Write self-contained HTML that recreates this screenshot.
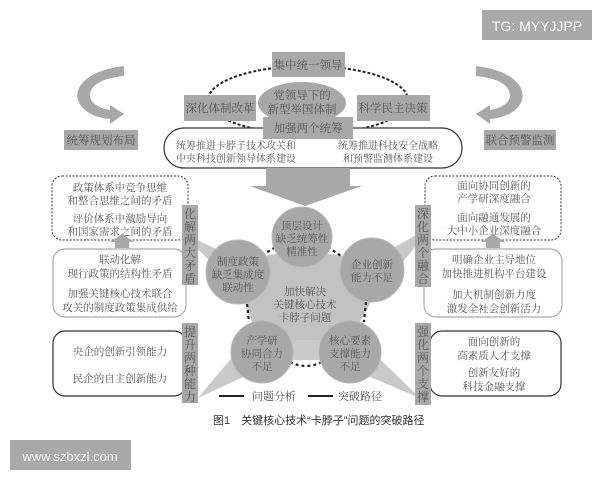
<!DOCTYPE html>
<html><head><meta charset="utf-8"><style>
body{margin:0;background:#fff}
svg{display:block}
text{font-family:"Liberation Serif","Noto Serif CJK SC",serif;fill:#555}
.s{font-family:"Liberation Sans","Noto Sans CJK SC",sans-serif}
</style></head><body>
<svg width="600" height="480" viewBox="0 0 600 480" xmlns="http://www.w3.org/2000/svg">
<rect width="600" height="480" fill="#fff"/>
<rect x="482" y="10" width="110" height="30" fill="#a9a9a9"/>
<text x="537" y="31" text-anchor="middle" class="s" font-size="14" style="fill:#fff">TG: MYYJJPP</text>
<rect x="10" y="440" width="121" height="30" fill="#a9a9a9"/>
<text x="70" y="461" text-anchor="middle" class="s" font-size="13" style="fill:#fff">www.szbxzl.com</text>

<path d="M124 66 C90 70 74 85 78 100 C82 112 96 118 110 119 L110 124 L124 114 L110 105 L110 110 C98 108 90 102 90 96 C90 84 104 78 124 76 Z" fill="#a8a8a8"/>
<path d="M476 66 C510 70 526 85 522 100 C518 112 504 118 490 119 L490 124 L476 114 L490 105 L490 110 C502 108 510 102 510 96 C510 84 496 78 476 76 Z" fill="#a8a8a8"/>
<rect x="64" y="130" width="74" height="20" fill="#a8a8a8"/>
<text x="101" y="144" text-anchor="middle" font-size="11.5">统筹规划布局</text>
<rect x="484" y="130" width="72" height="20" fill="#a8a8a8"/>
<text x="520" y="144" text-anchor="middle" font-size="11.5">联合预警监测</text>

<ellipse cx="308" cy="100" rx="100" ry="34" fill="none" stroke="#222" stroke-width="2" stroke-dasharray="3,2"/>
<ellipse cx="302" cy="103" rx="44" ry="21" fill="#a8a8a8"/>
<text x="302" y="99" text-anchor="middle" font-size="11.5">党领导下的</text>
<text x="302" y="113" text-anchor="middle" font-size="11.5">新型举国体制</text>
<rect x="272" y="52" width="73" height="25" fill="#a8a8a8"/>
<text x="308" y="69" text-anchor="middle" font-size="11.5">集中统一领导</text>
<rect x="184" y="95" width="72" height="26" fill="#a8a8a8"/>
<text x="220" y="112" text-anchor="middle" font-size="11.5">深化体制改革</text>
<rect x="357" y="95" width="73" height="26" fill="#a8a8a8"/>
<text x="393" y="112" text-anchor="middle" font-size="11.5">科学民主决策</text>
<rect x="164" y="128" width="298" height="40" rx="20" fill="#fff" stroke="#333" stroke-width="1.2"/>
<rect x="263" y="117" width="90" height="22" fill="#a8a8a8"/>
<text x="308" y="132" text-anchor="middle" font-size="11.5">加强两个统筹</text>
<text x="236" y="149" text-anchor="middle" font-size="10">统筹推进卡脖子技术攻关和</text>
<text x="236" y="162" text-anchor="middle" font-size="10">中央科技创新领导体系建设</text>
<text x="388" y="149" text-anchor="middle" font-size="10">统筹推进科技安全战略</text>
<text x="388" y="162" text-anchor="middle" font-size="10">和预警监测体系建设</text>

<path d="M266 168 L350 168 L350 186 L362 186 L305 206 L250 186 L266 186 Z" fill="#a8a8a8"/>

<path d="M180 232 L240 260 L300 250 L372 260 L432 226 L372 300 L350 330 L420 398 L330 360 L280 360 L198 398 L255 330 L240 290 Z" fill="#c9c9c9"/>
<path d="M240 260 L300 250 L372 260 L372 300 L350 340 L262 340 L240 290 Z" fill="#c2c2c2"/>

<g stroke="#222" stroke-width="2.2" stroke-dasharray="3,3" fill="none">
<line x1="262" y1="255" x2="276" y2="247"/>
<line x1="328" y1="247" x2="344" y2="258"/>
<line x1="247" y1="304" x2="249" y2="322"/>
<line x1="366" y1="302" x2="364" y2="322"/>
<path d="M290 362 Q306 370 322 362"/>
</g>

<g fill="#a8a8a8" stroke="#b9b9b9" stroke-width="1">
<circle cx="302" cy="237" r="30"/>
<circle cx="238" cy="272" r="32"/>
<circle cx="372" cy="270" r="32"/>
<circle cx="262" cy="352" r="31"/>
<circle cx="350" cy="352" r="31"/>
</g>
<g font-size="10.5" text-anchor="middle">
<text x="302" y="229">顶层设计</text><text x="302" y="242">缺乏统筹性</text><text x="302" y="255">精准性</text>
<text x="238" y="265">制度政策</text><text x="238" y="278">缺乏集成度</text><text x="238" y="291">联动性</text>
<text x="372" y="268">企业创新</text><text x="372" y="281">能力不足</text>
<text x="262" y="344">产学研</text><text x="262" y="357">协同合力</text><text x="262" y="370">不足</text>
<text x="350" y="344">核心要素</text><text x="350" y="357">支撑能力</text><text x="350" y="370">不足</text>
<text x="305" y="295">加快解决</text><text x="305" y="308">关键核心技术</text><text x="305" y="321">卡脖子问题</text>
</g>

<rect x="52" y="176" width="136" height="64" rx="10" fill="#fff" stroke="#333" stroke-width="1" stroke-dasharray="2,1.5"/>
<g font-size="10.5" text-anchor="middle">
<text x="120" y="191">政策体系中竞争思维</text><text x="120" y="204">和整合思维之间的矛盾</text>
<text x="120" y="222">评价体系中激励导向</text><text x="120" y="235">和国家需求之间的矛盾</text>
</g>
<path d="M115 248 L115 242 L110 242 L122 234 L134 242 L129 242 L129 248 Z" fill="#a8a8a8"/>
<rect x="53" y="249" width="133" height="68" rx="12" fill="#fff" stroke="#aaa" stroke-width="1.2"/>
<g font-size="10.5" text-anchor="middle">
<text x="120" y="263">联动化解</text><text x="120" y="277">现行政策的结构性矛盾</text>
<text x="120" y="297">加强关键核心技术联合</text><text x="120" y="311">攻关的制度政策集成供给</text>
</g>
<rect x="53" y="331" width="133" height="65" rx="12" fill="#fff" stroke="#333" stroke-width="1.2"/>
<g font-size="10.5" text-anchor="middle">
<text x="120" y="355">央企的创新引领能力</text><text x="120" y="382">民企的自主创新能力</text>
</g>
<rect x="182" y="205" width="16" height="80" fill="#a8a8a8"/>
<text x="190" y="218" text-anchor="middle" font-size="12"><tspan x="190">化</tspan><tspan x="190" dy="13">解</tspan><tspan x="190" dy="13">两</tspan><tspan x="190" dy="13">大</tspan><tspan x="190" dy="13">矛</tspan><tspan x="190" dy="13">盾</tspan></text>
<rect x="182" y="323" width="16" height="80" fill="#a8a8a8"/>
<text x="190" y="336" text-anchor="middle" font-size="12"><tspan x="190">提</tspan><tspan x="190" dy="13">升</tspan><tspan x="190" dy="13">两</tspan><tspan x="190" dy="13">种</tspan><tspan x="190" dy="13">能</tspan><tspan x="190" dy="13">力</tspan></text>

<rect x="425" y="176" width="136" height="64" rx="10" fill="#fff" stroke="#333" stroke-width="1" stroke-dasharray="2,1.5"/>
<g font-size="10.5" text-anchor="middle">
<text x="494" y="189">面向协同创新的</text><text x="494" y="202">产学研深度融合</text>
<text x="494" y="221">面向融通发展的</text><text x="494" y="234">大中小企业深度融合</text>
</g>
<path d="M486 248 L486 242 L481 242 L493 234 L505 242 L500 242 L500 248 Z" fill="#a8a8a8"/>
<rect x="424" y="249" width="138" height="68" rx="12" fill="#fff" stroke="#aaa" stroke-width="1.2"/>
<g font-size="10.5" text-anchor="middle">
<text x="494" y="263">明确企业主导地位</text><text x="494" y="277">加快推进机构平台建设</text>
<text x="494" y="298">加大机制创新力度</text><text x="494" y="312">激发全社会创新活力</text>
</g>
<rect x="430" y="331" width="131" height="65" rx="12" fill="#fff" stroke="#333" stroke-width="1.2"/>
<g font-size="10.5" text-anchor="middle">
<text x="494" y="345">面向创新的</text><text x="494" y="359">高素质人才支撑</text>
<text x="494" y="376">创新友好的</text><text x="494" y="390">科技金融支撑</text>
</g>
<rect x="415" y="205" width="16" height="82" fill="#a8a8a8"/>
<text x="423" y="218" text-anchor="middle" font-size="12"><tspan x="423">深</tspan><tspan x="423" dy="13">化</tspan><tspan x="423" dy="13">两</tspan><tspan x="423" dy="13">个</tspan><tspan x="423" dy="13">融</tspan><tspan x="423" dy="13">合</tspan></text>
<rect x="415" y="323" width="16" height="82" fill="#a8a8a8"/>
<text x="423" y="336" text-anchor="middle" font-size="12"><tspan x="423">强</tspan><tspan x="423" dy="13">化</tspan><tspan x="423" dy="13">两</tspan><tspan x="423" dy="13">个</tspan><tspan x="423" dy="13">支</tspan><tspan x="423" dy="13">撑</tspan></text>

<line x1="219" y1="396" x2="244" y2="396" stroke="#222" stroke-width="2"/>
<text x="252" y="400" font-size="11">问题分析</text>
<line x1="308" y1="396" x2="333" y2="396" stroke="#222" stroke-width="2"/>
<text x="338" y="400" font-size="11">突破路径</text>
<text x="213" y="424" font-size="11" class="s" style="fill:#333">图1　关键核心技术“卡脖子”问题的突破路径</text>
</svg>
</body></html>
